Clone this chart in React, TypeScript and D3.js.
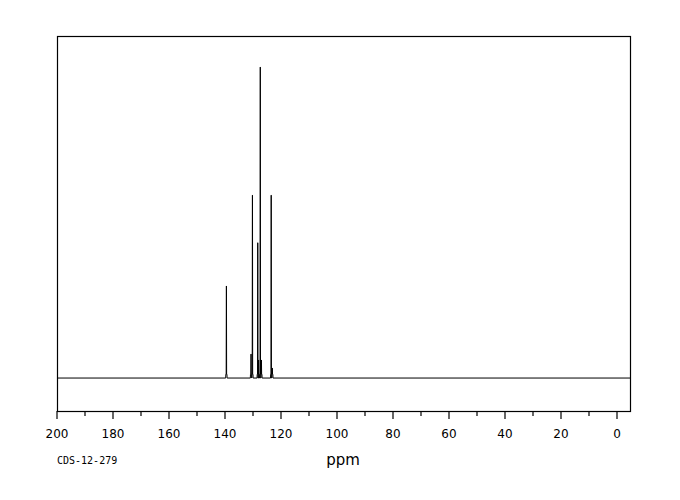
import React from 'react';
import * as d3 from 'd3';

// peak positions (ppm) and relative intensities
const peakShifts = [139.5, 130.7, 130.2, 128.3, 128.0, 127.4, 127.0, 123.5, 123.1];
const peakHeights = [29.6, 7.7, 58.8, 43.5, 5.8, 100, 5.8, 58.8, 3.2];
const tickValues = [200, 190, 180, 170, 160, 150, 140, 130, 120, 110, 100, 90, 80, 70, 60, 50, 40, 30, 20, 10, 0];
const labelValues = [200, 180, 160, 140, 120, 100, 80, 60, 40, 20, 0];

const W = 680;
const H = 500;
const margin = { left: 57, right: 49, top: 36, bottom: 89 };

const App: React.FC = () => {
  const x = d3.scaleLinear().domain([200, -5]).range([margin.left, W - margin.right]);
  const y = d3.scaleLinear().domain([-10.6, 110]).range([H - margin.bottom, margin.top]);

  // build the trace: flat baseline with narrow sticks at each peak
  const pts: [number, number][] = [[200, 0]];
  const order = d3.range(peakShifts.length).sort((a, b) => peakShifts[b] - peakShifts[a]);
  order.forEach(i => {
    const p = peakShifts[i];
    const h = peakHeights[i];
    pts.push([p + 0.25, 0], [p + 0.2, 1.2], [p + 0.08, 1.2], [p + 0.02, h], [p - 0.02, h], [p - 0.08, 1.2], [p - 0.2, 1.2], [p - 0.25, 0]);
  });
  pts.push([-5, 0]);
  const line = d3.line<[number, number]>().x(d => x(d[0])).y(d => y(d[1]));

  const bottom = H - margin.bottom;

  return (
    <svg width={W} height={H} style={{ position: 'absolute', left: 0, top: 0, background: '#fff' }}>
      <rect x={margin.left + 0.5} y={margin.top + 0.5} width={W - margin.left - margin.right - 1} height={bottom - margin.top}
        fill="none" stroke="#000" strokeWidth={1.2} />
      <path d={line(pts) ?? ''} fill="none" stroke="#000" strokeWidth={1} />
      {tickValues.map(t => (
        <line key={t} x1={x(t)} x2={x(t)} y1={bottom} y2={bottom + (t % 20 === 0 ? 8 : 5)} stroke="#000" strokeWidth={1.2} />
      ))}
      {labelValues.map(t => (
        <text key={t} x={x(t)} y={bottom + 27} textAnchor="middle" fontFamily="DejaVu Sans" fontSize={12} fill="#000">{t}</text>
      ))}
      <text x={343} y={465} textAnchor="middle" fontFamily="DejaVu Sans" fontSize={15} fill="#000">ppm</text>
      <text x={57} y={464} fontFamily="DejaVu Sans Mono" fontSize={10} fill="#000">CDS-12-279</text>
    </svg>
  );
};

export default App;
